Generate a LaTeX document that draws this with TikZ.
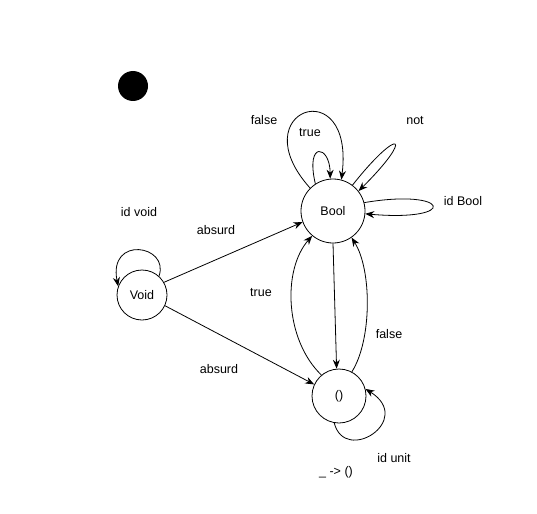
\documentclass[tikz,border=0pt]{standalone}
\usepackage{fontspec}
\setmainfont{Liberation Sans}
\usetikzlibrary{arrows.meta}
\begin{document}
\begin{tikzpicture}[x=1pt,y=-1pt,
  obj/.style={circle,draw,line width=0.8pt,inner sep=0pt},
  lbl/.style={font=\fontsize{12.5}{14}\selectfont,inner sep=0pt},
  arr/.style={line width=0.8pt,-{Stealth[length=9pt,width=7pt]}}]
\useasboundingbox (0,0) rectangle (537,513);
\fill (133,86) circle (15);
\node[obj,minimum size=64pt,lbl] (Bool) at (333,211) {Bool};
\node[obj,minimum size=50pt,lbl] (Void) at (142,295) {Void};
\node[obj,minimum size=54pt,lbl] (Unit) at (339,396) {()};
% labels
\node[lbl] (lfalse1) at (264,120) {false};
\node[lbl] (ltrue1) at (310,133) {true};
\node[lbl] (lnot) at (415,121) {not};
\node[lbl] (lidb) at (463,201) {id Bool};
\node[lbl] (lidv) at (139,212) {id void};
\node[lbl] (labs1) at (216,230) {absurd};
\node[lbl] (ltrue2) at (261,293) {true};
\node[lbl] (lfalse2) at (389,334) {false};
\node[lbl] (labs2) at (219,369) {absurd};
\node[lbl] (lidu) at (394,458) {id unit};
\node[lbl] (lconst) at (336,472) {\_ -> ()};
% edges
\draw[arr] (Void.48) .. controls (170,245) and (108,235) .. (Void.160);
\draw[arr] (Void.30) -- (Bool.200);
\draw[arr] (Void.-25) -- (Unit.155);
\draw[arr] (Bool.-90) -- (Unit.95);
\draw[arr] (Unit.130) .. controls (285,340) and (282,270) .. (Bool.230);
\draw[arr] (Unit.62) .. controls (372,340) and (372,270) .. (Bool.-55);
\draw[arr] (Bool.123) .. controls (305,140) and (330,145) .. (Bool.95);
\draw[arr] (Bool.135) .. controls (240,110) and (355,70) .. (Bool.75);
\draw[arr] (Bool.53) .. controls (400,125) and (415,135) .. (Bool.38);
\draw[arr] (Bool.15) .. controls (450,188) and (460,222) .. (Bool.-5);
\draw[arr] (Unit.-100) .. controls (345,465) and (415,420) .. (Unit.15);
\end{tikzpicture}
\end{document}
